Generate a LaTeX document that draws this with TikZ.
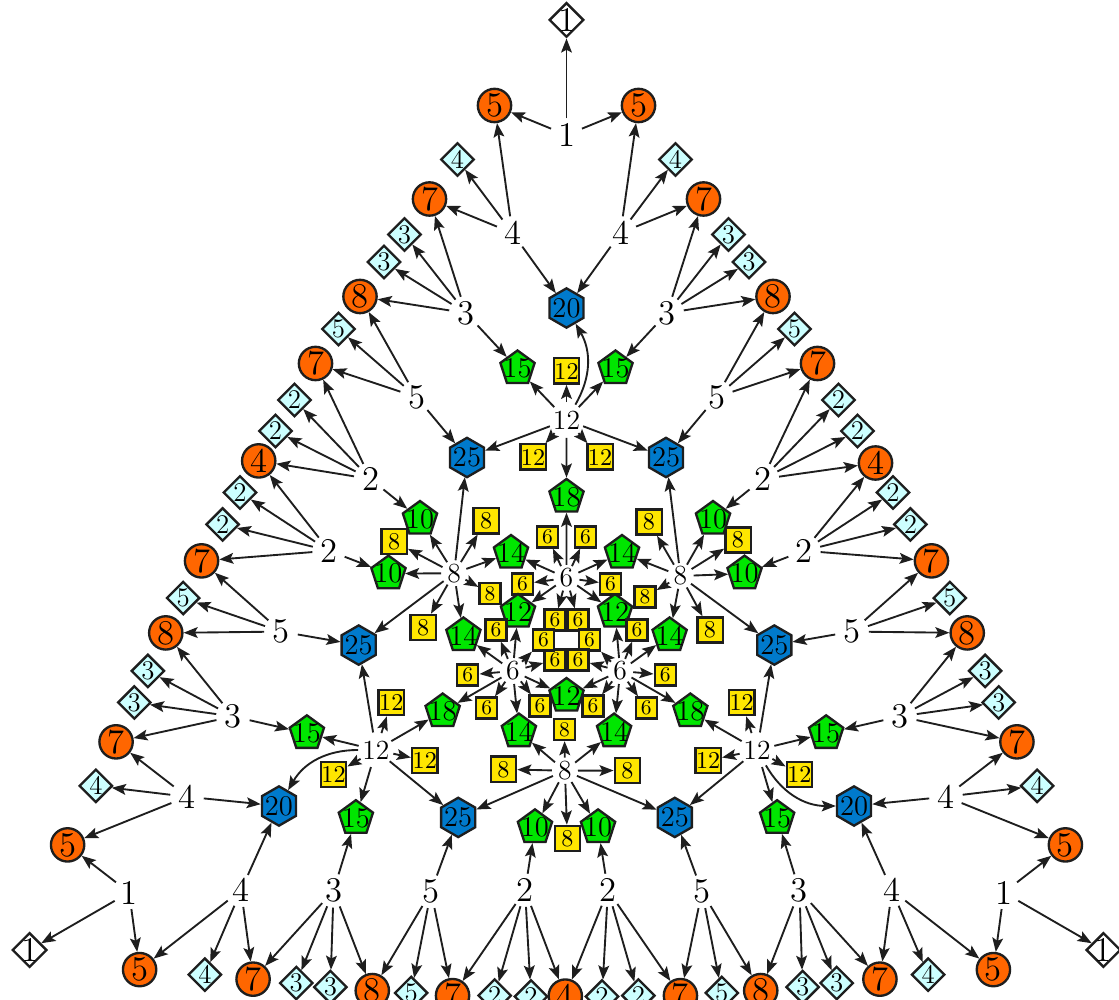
\documentclass[tikz,border=0pt]{standalone}
\usepackage{fontspec}
\usetikzlibrary{shapes.geometric,arrows.meta,backgrounds}

\definecolor{sumorange}{RGB}{255,102,0}
\definecolor{copycyan}{RGB}{204,255,255}
\definecolor{prodblue}{RGB}{0,122,204}
\definecolor{pentgreen}{RGB}{0,230,0}
\definecolor{boxyellow}{RGB}{255,230,0}
\definecolor{rim}{RGB}{30,30,30}

\tikzset{
  lbl/.style={circle,inner sep=0.6pt,font=\fontsize{14.8}{17}\selectfont},
  slbl/.style={circle,inner sep=0.3pt,font=\fontsize{11.8}{13}\selectfont},
  sumc/.style={circle,draw=rim,line width=1pt,fill=sumorange,minimum size=0.5cm,inner sep=0pt,font=\fontsize{14.8}{17}\selectfont},
  topd/.style={diamond,draw=rim,line width=1pt,fill=white,minimum size=0.52cm,inner sep=-2pt,font=\fontsize{14.8}{17}\selectfont},
  cpyd/.style={diamond,draw=rim,line width=1pt,fill=copycyan,minimum size=0.5cm,inner sep=-1pt,font=\fontsize{11.5}{13}\selectfont},
  prodh/.style={regular polygon,regular polygon sides=6,shape border rotate=30,draw=rim,line width=1pt,fill=prodblue,minimum size=0.59cm,inner sep=-3pt,font=\fontsize{12.2}{13}\selectfont},
  pent/.style={regular polygon,regular polygon sides=5,draw=rim,line width=1pt,fill=pentgreen,minimum size=0.54cm,inner sep=-3pt,font=\fontsize{12.2}{13}\selectfont},
  sqb/.style={rectangle,draw=rim,line width=1pt,fill=boxyellow,minimum size=0.38cm,inner sep=0pt,font=\fontsize{10.3}{12}\selectfont},
  sqs/.style={rectangle,draw=rim,line width=1pt,fill=boxyellow,minimum size=0.315cm,inner sep=0pt,font=\fontsize{8.9}{10}\selectfont},
  arr/.style={-{Stealth[length=6pt,width=4.6pt,inset=1.2pt]},line width=0.8pt,draw=rim}
}

\begin{document}
\begin{tikzpicture}[x=0.015cm,y=0.015cm]
\path[use as bounding box] (-566.5,-359) rectangle (552.5,640);
\clip (-566.5,-359) rectangle (552.5,640);
% three identical sectors, one per corner
\foreach \r/\s in {0/a,120/b,240/c}{
\begin{scope}[rotate=\r]
  % on the corner axis
  \node[topd] (d1\s) at (0,620) {1};
  \node[lbl] (l1\s) at (0,505) {1};
  \node[prodh] (h20\s) at (0,332) {20};
  \node[sqb] (q12t\s) at (0,269) {12};
  \node[slbl] (l12\s) at (0,220) {12};
  \node[pent] (p18\s) at (0,143) {18};
  \node[slbl] (l6\s) at (0,62) {6};
  % on the 30 degree axis
  \node[sumc] (c4\s) at (309,177) {4};
  \node[slbl] (l8\s) at (114,64) {8};
  \node[sqb] (q8a\s) at (82.5,118) {8};
  \node[sqb] (q8b\s) at (171.5,100) {8};
  \node[sqs] (q8c\s) at (78.5,43) {8};
  \node[sqb] (q8d\s) at (143.5,10) {8};
  \node[pent] (p12\s) at (48.5,28) {12};
  % left and right halves
  \foreach \m/\h in {-1/L,1/R}{
    \node[sumc] (c5\h\s) at (\m*72,534.5) {5};
    \node[lbl] (l4\h\s) at (\m*54,407) {4};
    \node[cpyd] (d4\h\s) at (\m*109,480.5) {4};
    \node[sumc] (c7\h\s) at (\m*137,441) {7};
    \node[lbl] (l3\h\s) at (\m*100.5,327) {3};
    \node[cpyd] (d3a\h\s) at (\m*162,405.5) {3};
    \node[cpyd] (d3b\h\s) at (\m*182.5,378) {3};
    \node[sumc] (c8\h\s) at (\m*206.5,343.5) {8};
    \node[pent] (p15\h\s) at (\m*49,271.5) {15};
    \node[lbl] (l5\h\s) at (\m*150,243) {5};
    \node[cpyd] (d5\h\s) at (\m*228,311) {5};
    \node[sumc] (c7b\h\s) at (\m*251,276.5) {7};
    \node[prodh] (h25\h\s) at (\m*99.5,182.5) {25};
    \node[sqb] (q12\h\s) at (\m*33.5,183) {12};
    \node[lbl] (l2\h\s) at (\m*196,161) {2};
    \node[cpyd] (d2a\h\s) at (\m*272,240) {2};
    \node[cpyd] (d2b\h\s) at (\m*291,209) {2};
    \node[pent] (p10\h\s) at (\m*146.5,121) {10};
    \node[sqs] (q6a\h\s) at (\m*19,103) {6};
    \node[pent] (p14\h\s) at (\m*55.5,87) {14};
    \node[sqs] (q6b\h\s) at (\m*44,56) {6};
    \node[sqs] (r6\h\s) at (\m*11.5,20) {6};
  }
\end{scope}
}
\begin{pgfonlayer}{background}
% arrows inside each sector
\foreach \s in {a,b,c}{
  \draw[arr] (l1\s) -- (d1\s);
  \draw[arr] (l12\s) -- (q12t\s);
  \draw[arr] (l12\s) to[bend right=30] (h20\s);
  \draw[arr] (l12\s) -- (p18\s);
  \draw[arr] (l6\s) -- (p18\s);
  \draw[arr] (l6\s) -- (p12\s);
  \draw[arr] (l2R\s) -- (c4\s);
  \foreach \t in {h25R,q8a,p10R,q8b,p14R,q8c,q8d} \draw[arr] (l8\s) -- (\t\s);
  \foreach \h in {L,R}{
    \draw[arr] (l1\s) -- (c5\h\s);
    \draw[arr] (l4\h\s) -- (h20\s);
    \foreach \t in {d4,c7,c5} \draw[arr] (l4\h\s) -- (\t\h\s);
    \foreach \t in {d3a,d3b,c7,c8,p15} \draw[arr] (l3\h\s) -- (\t\h\s);
    \foreach \t in {d5,c7b,c8,h25} \draw[arr] (l5\h\s) -- (\t\h\s);
    \foreach \t in {d2a,d2b,c7b,p10} \draw[arr] (l2\h\s) -- (\t\h\s);
    \foreach \t in {p15,h25,q12} \draw[arr] (l12\s) -- (\t\h\s);
    \foreach \t in {q6a,p14,q6b,r6} \draw[arr] (l6\s) -- (\t\h\s);
  }
}
% arrows into the neighbouring sector
\foreach \s/\n/\p in {a/b/c,b/c/a,c/a/b}{
  \draw[arr] (l2L\s) -- (c4\n);
  \draw[arr] (l6\s) -- (p12\n);
  \foreach \t in {h25L,p10L,p14L} \draw[arr] (l8\s) -- (\t\p);
}
\end{pgfonlayer}
\end{tikzpicture}
\end{document}
